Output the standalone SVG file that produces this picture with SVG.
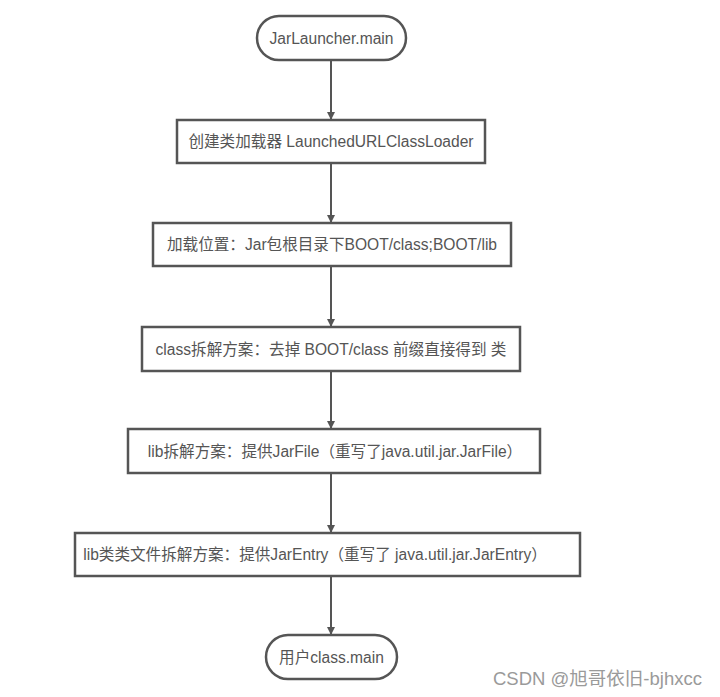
<svg xmlns="http://www.w3.org/2000/svg" width="720" height="697" viewBox="0 0 720 697">
<style>
.box{fill:#fff;stroke:#555;stroke-width:2.5}
.t{font-family:"Liberation Sans","Noto Sans CJK SC",sans-serif;font-size:15.6px;fill:#555;text-anchor:middle}
.c{stroke:#555;stroke-width:2;fill:none}
.wm{font-family:"Liberation Sans","Noto Sans CJK SC",sans-serif;font-size:18.5px;fill:#9a9a9a}
</style>
<defs>
<marker id="ah" markerWidth="8" markerHeight="8" refX="7" refY="4" orient="auto" markerUnits="userSpaceOnUse">
<path d="M0,0 L8,4 L0,8 Z" fill="#555"/>
</marker>
</defs>
<rect width="720" height="697" fill="#fff"/>
<g id="connectors">
<line class="c" x1="331" y1="61" x2="331" y2="119" marker-end="url(#ah)"/>
<line class="c" x1="331" y1="164" x2="331" y2="222" marker-end="url(#ah)"/>
<line class="c" x1="331" y1="267" x2="331" y2="326" marker-end="url(#ah)"/>
<line class="c" x1="331" y1="372" x2="331" y2="428" marker-end="url(#ah)"/>
<line class="c" x1="331" y1="474" x2="331" y2="532" marker-end="url(#ah)"/>
<line class="c" x1="331" y1="577" x2="331" y2="634" marker-end="url(#ah)"/>
</g>
<g id="n1">
<rect class="box" x="257" y="16" width="149" height="44" rx="22"/>
<text class="t" x="331.5" y="43.5">JarLauncher.main</text>
</g>
<g id="n2">
<rect class="box" x="177" y="120" width="308" height="43"/>
<text class="t" x="331" y="147">创建类加载器 LaunchedURLClassLoader</text>
</g>
<g id="n3">
<rect class="box" x="153" y="223" width="358" height="43"/>
<text class="t" x="332" y="250">加载位置：Jar包根目录下BOOT/class;BOOT/lib</text>
</g>
<g id="n4">
<rect class="box" x="142" y="327" width="378" height="44"/>
<text class="t" x="331" y="355">class拆解方案：去掉 BOOT/class 前缀直接得到 类</text>
</g>
<g id="n5">
<rect class="box" x="128" y="429" width="412" height="44"/>
<text class="t" x="335" y="457">lib拆解方案：提供JarFile（重写了java.util.jar.JarFile）</text>
</g>
<g id="n6">
<rect class="box" x="75" y="533" width="505" height="43"/>
<text class="t" x="315" y="560">lib类类文件拆解方案：提供JarEntry（重写了 java.util.jar.JarEntry）</text>
</g>
<g id="n7">
<rect class="box" x="266" y="635" width="131" height="44" rx="22"/>
<text class="t" x="331.5" y="663">用户class.main</text>
</g>
<text class="wm" x="493" y="685">CSDN @旭哥依旧-bjhxcc</text>
</svg>
